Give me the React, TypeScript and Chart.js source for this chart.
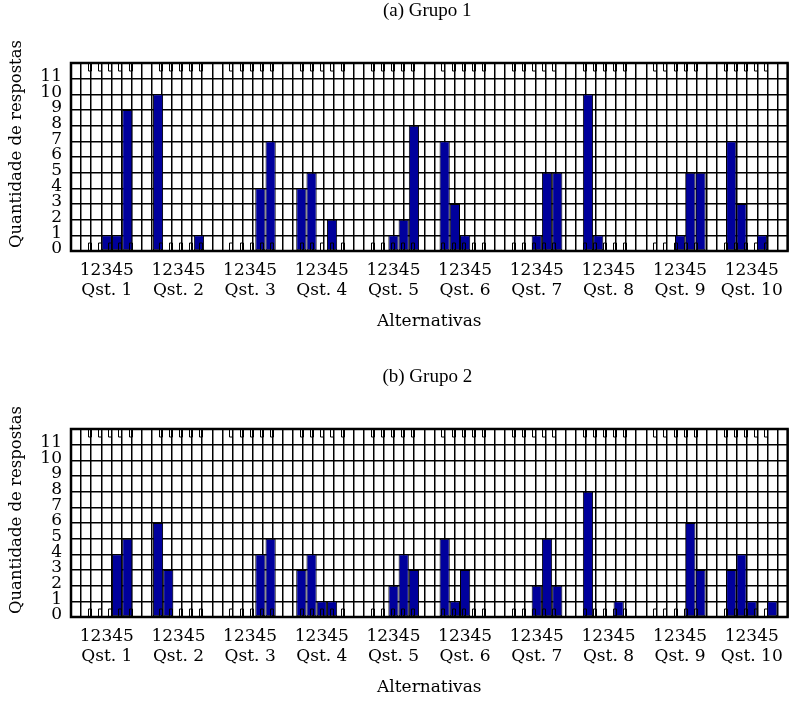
import React, { useEffect, useRef } from 'react';
import { Chart, registerables } from 'chart.js';

Chart.register(...registerables);

// ---- Data ----
const questoes = ['Qst. 1', 'Qst. 2', 'Qst. 3', 'Qst. 4', 'Qst. 5', 'Qst. 6', 'Qst. 7', 'Qst. 8', 'Qst. 9', 'Qst. 10'];
const alternativasRotulo = '12345';

// Grupo 1: respostas por alternativa (1..5) em cada questão
const g1Alt1 = [0, 10, 0, 4, 0, 7, 0, 10, 0, 7];
const g1Alt2 = [0, 0, 0, 5, 0, 3, 0, 1, 0, 3];
const g1Alt3 = [1, 0, 0, 0, 1, 1, 1, 0, 1, 0];
const g1Alt4 = [1, 0, 4, 2, 2, 0, 5, 0, 5, 1];
const g1Alt5 = [9, 1, 7, 0, 8, 0, 5, 0, 5, 0];

// Grupo 2
const g2Alt1 = [0, 6, 0, 3, 0, 5, 0, 8, 0, 3];
const g2Alt2 = [0, 3, 0, 4, 0, 1, 0, 0, 0, 4];
const g2Alt3 = [0, 0, 0, 1, 2, 3, 2, 0, 0, 1];
const g2Alt4 = [4, 0, 4, 1, 4, 0, 5, 1, 6, 0];
const g2Alt5 = [5, 0, 5, 0, 3, 0, 2, 0, 3, 1];

const titulo1 = '(a) Grupo 1';
const titulo2 = '(b) Grupo 2';
const yTitulo = 'Quantidade de respostas';
const xTitulo = 'Alternativas';
const yMax = 12;

const BAR = '#00009c';
const TICK_FONT = 'DejaVu Serif';
const FS = 17;

function makeDatasets(series: number[][]) {
  return series.map((s, i) => ({
    label: `Alternativa ${i + 1}`,
    data: s.map((v) => (v === 0 ? null : v)),
    backgroundColor: BAR,
    borderColor: '#000',
    borderWidth: 1,
    borderSkipped: false as any,
    categoryPercentage: 5 / 7,
    barPercentage: 1,
    xAxisID: 'x',
    yAxisID: 'y',
  }));
}

const decorPlugin = {
  id: 'decor',
  afterDraw(chart: any) {
    const { ctx, chartArea } = chart;
    const { left, right, top, bottom } = chartArea;
    const x2 = chart.scales.x2;
    const opts = chart.options.plugins.decor;
    ctx.save();
    // U ticks at each bar position
    ctx.strokeStyle = '#000';
    ctx.lineWidth = 1;
    const n = questoes.length;
    for (let g = 0; g < n; g++) {
      for (let a = 0; a < 5; a++) {
        const slot = 7 * g + 1 + a;
        const x = Math.round(x2.getPixelForValue(slot + 0.5));
        ctx.beginPath();
        ctx.moveTo(x - 2.5, top);
        ctx.lineTo(x - 2.5, top + 8);
        ctx.lineTo(x + 0.5, top + 8);
        ctx.lineTo(x + 0.5, top);
        ctx.moveTo(x - 2.5, bottom);
        ctx.lineTo(x - 2.5, bottom - 8);
        ctx.lineTo(x + 0.5, bottom - 8);
        ctx.lineTo(x + 0.5, bottom);
        ctx.stroke();
      }
    }
    // frame
    ctx.lineWidth = 2.5;
    ctx.strokeRect(left, top, right - left, bottom - top);
    // chart title
    ctx.fillStyle = '#000';
    ctx.font = '19px "Liberation Serif"';
    ctx.textAlign = 'center';
    ctx.textBaseline = 'middle';
    ctx.fillText(opts.title, (left + right) / 2 - 2, 11);
    // y title
    ctx.font = `16.5px "${TICK_FONT}"`;
    ctx.translate(17, (top + bottom) / 2 - 13);
    ctx.rotate(-Math.PI / 2);
    ctx.fillText(yTitulo, 0, 0);
    ctx.restore();
  },
};

function GroupChart({ series, title, height, padBottom }: { series: number[][]; title: string; height: number; padBottom: number }) {
  const ref = useRef<HTMLCanvasElement>(null);
  useEffect(() => {
    if (!ref.current) return;
    const chart = new Chart(ref.current, {
      type: 'bar',
      data: {
        labels: questoes.map((q) => [alternativasRotulo, q]),
        datasets: makeDatasets(series) as any,
      },
      options: {
        responsive: false,
        animation: false,
        devicePixelRatio: 1,
        layout: { padding: { top: 63, right: 3, bottom: padBottom, left: 0 } },
        plugins: {
          legend: { display: false },
          tooltip: { enabled: false },
          title: { display: false },
          decor: { title },
        } as any,
        scales: {
          x: {
            type: 'category',
            position: 'bottom',
            grid: { display: false, drawTicks: false },
            border: { display: false },
            ticks: {
              autoSkip: false,
              maxRotation: 0,
              minRotation: 0,
              padding: 10,
              color: '#000',
              font: { family: TICK_FONT, size: FS, lineHeight: 1.17 },
            },
            title: {
              display: true,
              text: xTitulo,
              color: '#000',
              font: { family: TICK_FONT, size: FS },
              padding: { top: 0, bottom: 3 },
            },
            afterFit: (s: any) => {
              s.height = 84;
            },
          },
          x2: {
            type: 'linear',
            position: 'top',
            min: 0,
            max: 7 * questoes.length,
            z: 1,
            grid: { display: true, color: '#000', lineWidth: 1.5, drawTicks: false },
            border: { display: false },
            ticks: { display: false, stepSize: 1, autoSkip: false },
            afterFit: (s: any) => {
              s.height = 0;
            },
          },
          y: {
            type: 'linear',
            min: 0,
            max: yMax,
            z: 1,
            grid: { color: '#000', lineWidth: 1.5, drawTicks: false },
            border: { display: false },
            ticks: {
              stepSize: 1,
              autoSkip: false,
              padding: 9,
              labelOffset: -2,
              color: '#000',
              font: { family: TICK_FONT, size: FS },
              callback: (v: any) => (v === yMax ? '' : String(v)),
            },
            afterFit: (s: any) => {
              s.width = 71;
            },
          },
        },
      },
      plugins: [decorPlugin],
    });
    return () => chart.destroy();
  }, [series, title, height, padBottom]);
  return (
    <div style={{ width: 793, height }}>
      <canvas ref={ref} width={793} height={height} style={{ display: 'block', width: 793, height }} />
    </div>
  );
}

const series1 = [g1Alt1, g1Alt2, g1Alt3, g1Alt4, g1Alt5];
const series2 = [g2Alt1, g2Alt2, g2Alt3, g2Alt4, g2Alt5];

export default function App() {
  return (
    <div style={{ position: 'absolute', left: 0, top: 0, width: 793, height: 701, background: '#fff' }}>
      <GroupChart series={series1} title={titulo1} height={366} padBottom={31} />
      <GroupChart series={series2} title={titulo2} height={335} padBottom={0} />
    </div>
  );
}
